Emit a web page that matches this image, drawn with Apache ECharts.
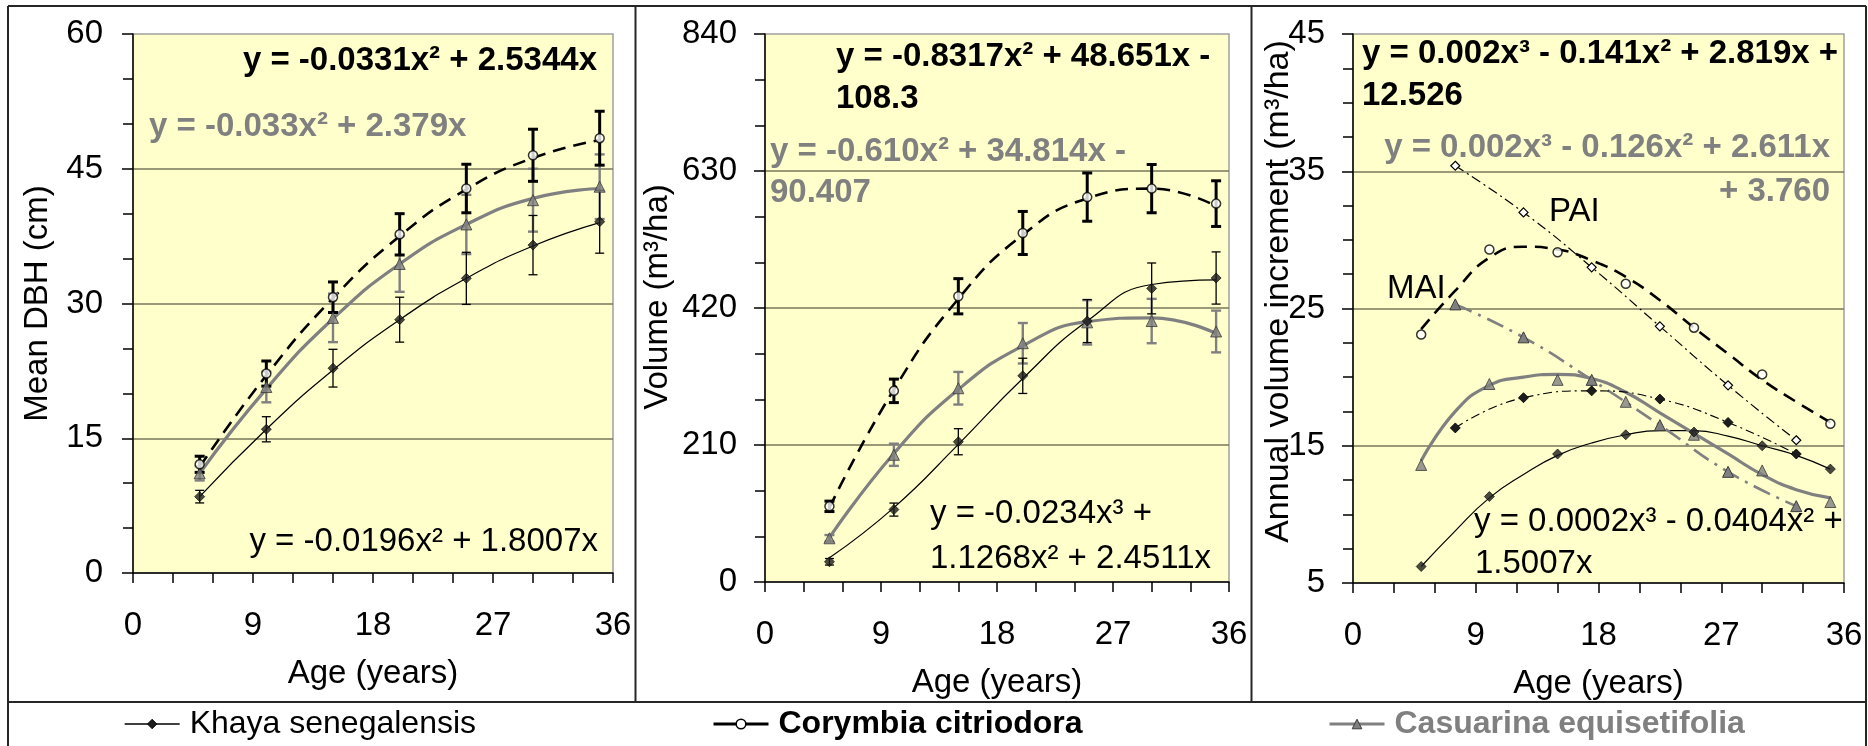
<!DOCTYPE html>
<html>
<head>
<meta charset="utf-8">
<script src="https://cdn.jsdelivr.net/npm/echarts@6/dist/echarts.min.js"></script>
<style>
  html, body { margin: 0; padding: 0; background: #ffffff; }
  #chart { width: 1868px; height: 746px; }
</style>
</head>
<body>
<div id="chart"></div>
<script>
// ---- Data -------------------------------------------------------------
// Stand ages (years) of the measurements and mid-period ages of the periodic increments
const ages = [5, 10, 15, 20, 25, 30, 35];
const midAges = [7.5, 12.5, 17.5, 22.5, 27.5, 32.5];
const fitAges = [5, 7.5, 10, 12.5, 15, 17.5, 20, 22.5, 25, 27.5, 30, 32.5, 35];

// Mean DBH (cm), standard errors and fitted trend values
const khayaDbh = [8.5, 16.0, 22.8, 28.2, 32.8, 36.5, 39.1];
const khayaDbhSe = [0.7, 1.4, 2.1, 2.5, 2.9, 3.3, 3.5];
const khayaDbhFit = [8.5, 16.0, 22.6, 28.2, 32.8, 36.4, 39.0];
const corymbiaDbh = [12.1, 22.2, 30.7, 37.7, 42.8, 46.5, 48.4];
const corymbiaDbhSe = [0.9, 1.4, 1.7, 2.3, 2.7, 2.9, 3.0];
const corymbiaDbhFit = [11.8, 22.0, 30.6, 37.5, 42.7, 46.2, 48.2];
const casuarinaDbh = [11.1, 20.7, 28.4, 34.4, 38.8, 41.5, 43.0];
const casuarinaDbhSe = [0.8, 1.7, 2.7, 3.1, 3.3, 3.5, 3.6];
const casuarinaDbhFit = [11.1, 20.5, 28.3, 34.4, 38.8, 41.7, 42.8];

// Stand volume (m3/ha), standard errors and fitted trend values
const khayaVol = [31, 111, 215, 316, 400, 450, 466];
const khayaVolSe = [5, 10, 20, 27, 33, 39, 40];
const khayaVolFit = [37, 114, 211, 312, 400, 456, 463];
const corymbiaVol = [116, 293, 438, 535, 590, 603, 580];
const corymbiaVolSe = [8, 18, 27, 33, 37, 37, 35];
const corymbiaVolFit = [114, 295, 434, 532, 588, 603, 576];
const casuarinaVol = [67, 195, 297, 366, 398, 400, 384];
const casuarinaVolSe = [5, 17, 25, 31, 34, 34, 32];
const casuarinaVolFit = [68, 197, 295, 362, 399, 405, 381];

// Mean (MAI) and periodic (PAI) annual volume increments (m3/ha)
const khayaMai = [6.2, 11.3, 14.4, 15.8, 16.0, 15.0, 13.3];
const khayaMaiFit = [6.2, 8.8, 11.2, 12.9, 14.3, 15.2, 15.8, 16.1, 16.1, 15.7, 15.0, 14.3, 13.3];
const khayaPai = [16.3, 18.5, 19.0, 18.4, 16.7, 14.4];
const corymbiaMai = [23.1, 29.3, 29.1, 26.8, 23.6, 20.2, 16.6];
const corymbiaMaiFit = [23.5, 26.3, 28.7, 29.5, 29.3, 28.5, 27.3, 25.6, 23.6, 21.7, 19.8, 18.2, 16.7];
const corymbiaPai = [35.4, 32.0, 28.0, 23.7, 19.4, 15.4];
const casuarinaMai = [13.6, 19.5, 19.8, 18.2, 15.8, 13.2, 10.9];
const casuarinaMaiFit = [13.9, 17.5, 19.4, 20.0, 20.2, 19.9, 18.9, 17.4, 15.9, 14.4, 12.9, 11.8, 11.2];
const casuarinaPai = [25.3, 22.9, 19.8, 16.5, 13.1, 10.6];

// Axis ticks
const ageTicks = { min: 0, max: 36, interval: 9 };
const dbhTicks = { min: 0, max: 60, interval: 15 };
const volTicks = { min: 0, max: 840, interval: 210 };
const incTicks = { min: 5, max: 45, interval: 10 };

// ---- Styles -----------------------------------------------------------
const FONT = '"Liberation Sans", Arial, Helvetica, sans-serif';
const FS = 33;
const GREY = '#808080';

const species = {
  khaya: {
    name: 'Khaya senegalensis',
    symbol: 'diamond', size: 10,
    item: { color: '#1c1c1c', borderColor: '#000', borderWidth: 0.8 },
    fit: { color: '#000', width: 1.2, type: 'solid' },
    err: { color: '#000', width: 1.3, cap: 4.5 }
  },
  corymbia: {
    name: 'Corymbia citriodora',
    symbol: 'circle', size: 9,
    item: { color: '#ffffff', borderColor: '#000', borderWidth: 1.5 },
    fit: { color: '#000', width: 2.6, type: [13, 8] },
    err: { color: '#000', width: 3, cap: 5 }
  },
  casuarina: {
    name: 'Casuarina equisetifolia',
    symbol: 'triangle', size: 11,
    item: { color: GREY, borderColor: '#3a3a3a', borderWidth: 1 },
    fit: { color: GREY, width: 3.2, type: 'solid' },
    err: { color: GREY, width: 2.4, cap: 5 }
  }
};

const pairs = (xs, ys) => xs.map((x, i) => [x, ys[i]]);
const triples = (xs, ys, es) => xs.map((x, i) => [x, ys[i], es[i]]);

function fitLine(sp, g, xs, ys, lineOverride) {
  return {
    name: sp.name, type: 'line', xAxisIndex: g, yAxisIndex: g,
    data: pairs(xs, ys), smooth: true, showSymbol: false,
    symbol: sp.symbol, symbolSize: sp.size, itemStyle: sp.item,
    lineStyle: Object.assign({}, sp.fit, lineOverride || {}),
    silent: true, z: 2, animation: false
  };
}

function points(sp, g, xs, ys, itemOverride) {
  return {
    name: sp.name, type: 'scatter', xAxisIndex: g, yAxisIndex: g,
    data: pairs(xs, ys), symbol: sp.symbol, symbolSize: sp.size,
    itemStyle: Object.assign({}, sp.item, itemOverride || {}),
    silent: true, z: 5, animation: false
  };
}

function periodic(sp, g, xs, ys, lineStyle, itemOverride) {
  return {
    name: sp.name, type: 'line', xAxisIndex: g, yAxisIndex: g,
    data: pairs(xs, ys), smooth: true, showSymbol: true,
    symbol: sp.symbol, symbolSize: sp.size,
    itemStyle: Object.assign({}, sp.item, itemOverride || {}),
    lineStyle: lineStyle, silent: true, z: 4, animation: false
  };
}

function errorBars(sp, g, xs, ys, es) {
  const st = sp.err;
  return {
    name: sp.name, type: 'custom', xAxisIndex: g, yAxisIndex: g,
    data: triples(xs, ys, es), encode: { x: 0, y: 1 }, silent: true, z: 3,
    animation: false, clip: false,
    renderItem: function (params, api) {
      const x = api.value(0), y = api.value(1), e = api.value(2);
      const hi = api.coord([x, y + e]);
      const lo = api.coord([x, y - e]);
      const style = { stroke: st.color, lineWidth: st.width };
      return {
        type: 'group',
        children: [
          { type: 'line', shape: { x1: hi[0], y1: hi[1], x2: lo[0], y2: lo[1] }, style: style },
          { type: 'line', shape: { x1: hi[0] - st.cap, y1: hi[1], x2: hi[0] + st.cap, y2: hi[1] }, style: style },
          { type: 'line', shape: { x1: lo[0] - st.cap, y1: lo[1], x2: lo[0] + st.cap, y2: lo[1] }, style: style }
        ]
      };
    }
  };
}

// ---- Axes -------------------------------------------------------------
const axisLine = { show: true, onZero: false, lineStyle: { color: '#000', width: 1.5 } };
const tickLine = { color: '#000', width: 1.5 };

function xAxisFor(g) {
  return Object.assign({
    type: 'value', gridIndex: g,
    axisLine: axisLine,
    axisTick: { show: true, inside: false, length: 10, lineStyle: tickLine },
    minorTick: { show: true, splitNumber: 3, length: 10, lineStyle: tickLine },
    axisLabel: { show: true, fontSize: FS, fontFamily: FONT, color: '#000', margin: 36 },
    splitLine: { show: false }, minorSplitLine: { show: false },
    name: 'Age (years)', nameLocation: 'middle', nameGap: 84, nameMoveOverlap: false,
    nameTextStyle: { fontSize: FS, fontFamily: FONT, color: '#000' }
  }, ageTicks);
}

function yAxisFor(g, ticks, title, gap, minorSplit, labelMargin, shiftUp, titleSize) {
  return Object.assign({
    type: 'value', gridIndex: g,
    axisLine: axisLine,
    axisTick: { show: true, inside: false, length: 11, lineStyle: tickLine },
    minorTick: { show: true, splitNumber: minorSplit, length: 10, lineStyle: tickLine },
    axisLabel: { show: true, fontSize: FS, fontFamily: FONT, color: '#000', margin: labelMargin },
    splitLine: { show: true, showMinLine: false, showMaxLine: false, lineStyle: { color: '#77775c', width: 1.5 } },
    minorSplitLine: { show: false },
    name: title, nameLocation: 'middle', nameGap: gap, nameMoveOverlap: false,
    nameTextStyle: { fontSize: titleSize, fontFamily: FONT, color: '#000', padding: [0, 0, 0, shiftUp] }
  }, ticks);
}

const gridBase = { show: true, backgroundColor: '#ffffcc', borderColor: '#a0a0a0', borderWidth: 1.5, containLabel: false, outerBoundsMode: 'none' };

// ---- Annotations (trend equations and curve labels) ---------------------
function note(text, x, baseline, align, bold, color) {
  return {
    type: 'text', silent: true, z: 20,
    style: {
      text: text, x: x, y: baseline - 11, align: align, verticalAlign: 'middle',
      fontSize: FS, fontFamily: FONT, fontWeight: bold ? 'bold' : 'normal', fill: color
    }
  };
}

function rule(x1, y1, x2, y2) {
  return { type: 'line', silent: true, z: 30, shape: { x1: x1, y1: y1, x2: x2, y2: y2 }, style: { stroke: '#262626', lineWidth: 2 } };
}

const graphics = [
  // frame around the three panels and the legend row
  rule(8, 6, 1866, 6), rule(8, 6, 8, 746), rule(1866, 6, 1866, 746),
  rule(8, 702, 1866, 702), rule(635.5, 6, 635.5, 702), rule(1251.5, 6, 1251.5, 702),

  note('y = -0.0331x² + 2.5344x', 597, 72, 'right', true, '#000'),
  note('y = -0.033x² + 2.379x', 149, 138, 'left', true, GREY),
  note('y = -0.0196x² + 1.8007x', 598, 553, 'right', false, '#000'),

  note('y = -0.8317x² + 48.651x -', 836, 68, 'left', true, '#000'),
  note('108.3', 836, 110, 'left', true, '#000'),
  note('y = -0.610x² + 34.814x -', 770, 163, 'left', true, GREY),
  note('90.407', 770, 204, 'left', true, GREY),
  note('y = -0.0234x³ +', 930, 525, 'left', false, '#000'),
  note('1.1268x² + 2.4511x', 930, 570, 'left', false, '#000'),

  note('y = 0.002x³ - 0.141x² + 2.819x +', 1362, 65, 'left', true, '#000'),
  note('12.526', 1362, 107, 'left', true, '#000'),
  note('y = 0.002x³ - 0.126x² + 2.611x', 1830, 159, 'right', true, GREY),
  note('+ 3.760', 1830, 203, 'right', true, GREY),
  note('y = 0.0002x³ - 0.0404x² +', 1474, 533, 'left', false, '#000'),
  note('1.5007x', 1475, 575, 'left', false, '#000'),
  note('PAI', 1549, 223, 'left', false, '#000'),
  note('MAI', 1387, 300, 'left', false, '#000')
];

// ---- Legend -----------------------------------------------------------
function legendFor(sp, left, textStyle, lineStyle) {
  return {
    show: true, left: left, top: 708, padding: 0, itemWidth: 55, itemHeight: 12,
    selectedMode: false,
    data: [{ name: sp.name, itemStyle: sp.item, lineStyle: lineStyle }],
    textStyle: Object.assign({ fontSize: 32, fontFamily: FONT, padding: [0, 0, 0, 5] }, textStyle)
  };
}

const K = species.khaya, C = species.corymbia, Q = species.casuarina;

const series = [
  // Panel 1: mean DBH
  fitLine(K, 0, ages, khayaDbhFit),
  fitLine(C, 0, ages, corymbiaDbhFit),
  fitLine(Q, 0, ages, casuarinaDbhFit),
  errorBars(Q, 0, ages, casuarinaDbh, casuarinaDbhSe),
  errorBars(K, 0, ages, khayaDbh, khayaDbhSe),
  errorBars(C, 0, ages, corymbiaDbh, corymbiaDbhSe),
  points(Q, 0, ages, casuarinaDbh),
  points(K, 0, ages, khayaDbh),
  points(C, 0, ages, corymbiaDbh),

  // Panel 2: stand volume
  fitLine(K, 1, ages, khayaVolFit),
  fitLine(C, 1, ages, corymbiaVolFit),
  fitLine(Q, 1, ages, casuarinaVolFit),
  errorBars(Q, 1, ages, casuarinaVol, casuarinaVolSe),
  errorBars(K, 1, ages, khayaVol, khayaVolSe),
  errorBars(C, 1, ages, corymbiaVol, corymbiaVolSe),
  points(Q, 1, ages, casuarinaVol),
  points(K, 1, ages, khayaVol),
  points(C, 1, ages, corymbiaVol),

  // Panel 3: MAI (fitted curves + points) and PAI (joined points)
  fitLine(K, 2, fitAges, khayaMaiFit),
  fitLine(C, 2, fitAges, corymbiaMaiFit),
  fitLine(Q, 2, fitAges, casuarinaMaiFit),
  periodic(Q, 2, midAges, casuarinaPai, { color: GREY, width: 2.6, type: [18, 7, 3, 7] }),
  periodic(C, 2, midAges, corymbiaPai, { color: '#000', width: 1.2, type: [10, 4, 2, 4] },
           { color: '#ffffff', borderColor: '#000', borderWidth: 1.2 }),
  periodic(K, 2, midAges, khayaPai, { color: '#000', width: 1.1, type: [9, 4, 2, 4] }),
  points(Q, 2, ages, casuarinaMai),
  points(K, 2, ages, khayaMai),
  points(C, 2, ages, corymbiaMai)
];
series[22].symbol = 'diamond';
series[22].symbolSize = 9;

const chart = echarts.init(document.getElementById('chart'), null, { renderer: 'canvas' });
chart.setOption({
  animation: false,
  backgroundColor: '#ffffff',
  textStyle: { fontFamily: FONT },
  grid: [
    Object.assign({ left: 133, top: 34, width: 480, height: 539 }, gridBase),
    Object.assign({ left: 765, top: 34, width: 464, height: 548 }, gridBase),
    Object.assign({ left: 1353, top: 34, width: 491, height: 549 }, gridBase)
  ],
  xAxis: [xAxisFor(0), xAxisFor(1), xAxisFor(2)],
  yAxis: [
    yAxisFor(0, dbhTicks, 'Mean DBH (cm)', 79, 3, 30, 0, FS),
    yAxisFor(1, volTicks, 'Volume (m³/ha)', 91, 3, 28, 22, FS),
    yAxisFor(2, incTicks, 'Annual volume increment (m³/ha)', 57, 4, 28, 34, 34)
  ],
  legend: [
    legendFor(K, 124, { color: '#000', fontWeight: 'normal' }, { color: '#000', width: 1.3, type: 'solid' }),
    legendFor(C, 712, { color: '#000', fontWeight: 'bold' }, { color: '#000', width: 3, type: 'solid' }),
    legendFor(Q, 1328, { color: GREY, fontWeight: 'bold' }, { color: GREY, width: 3, type: 'solid' })
  ],
  tooltip: { show: false },
  graphic: graphics,
  series: series
});
</script>
</body>
</html>
